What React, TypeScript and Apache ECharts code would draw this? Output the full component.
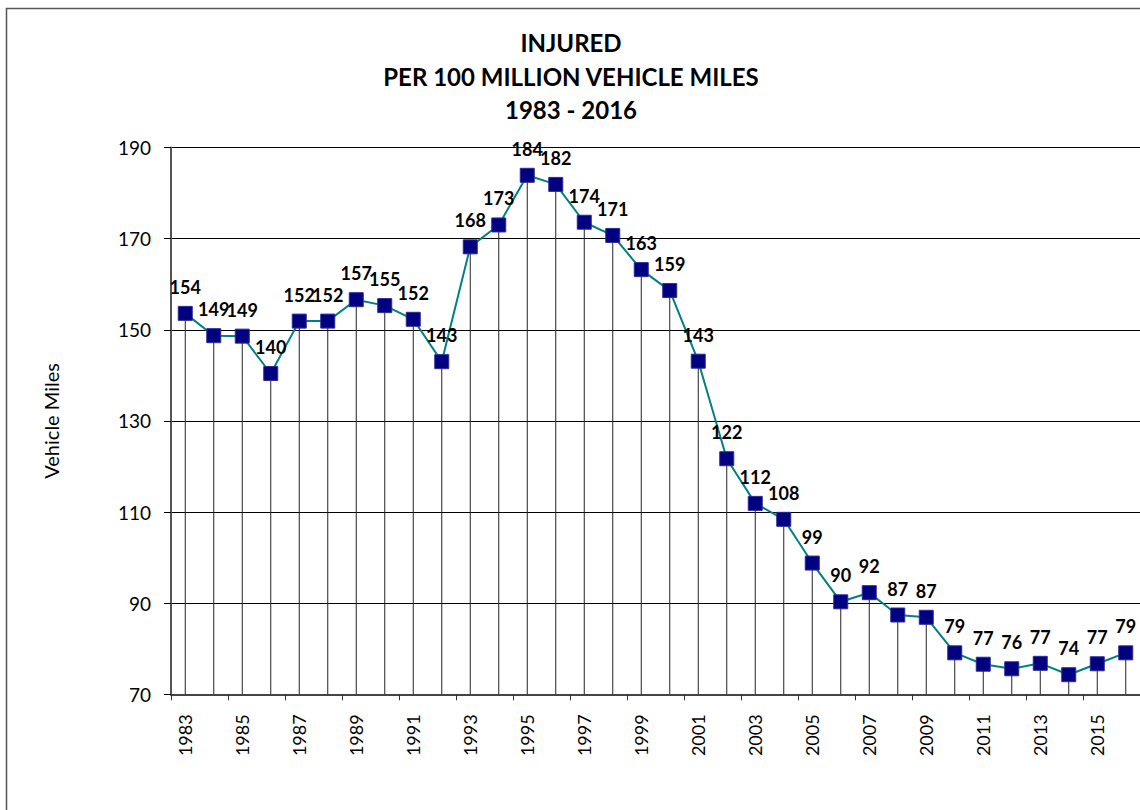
import React, { useEffect, useRef } from "react";
import * as echarts from "echarts";

const years: string[] = [
  "1983", "1984", "1985", "1986", "1987", "1988", "1989", "1990", "1991", "1992",
  "1993", "1994", "1995", "1996", "1997", "1998", "1999", "2000", "2001", "2002",
  "2003", "2004", "2005", "2006", "2007", "2008", "2009", "2010", "2011", "2012",
  "2013", "2014", "2015", "2016",
];

const injuredRate: number[] = [
  153.6, 148.7, 148.6, 140.4, 151.9, 151.9, 156.6, 155.3, 152.3, 143.0,
  168.2, 173.0, 183.9, 181.9, 173.6, 170.7, 163.2, 158.6, 143.1, 121.7,
  111.9, 108.4, 98.8, 90.3, 92.3, 87.4, 86.9, 79.1, 76.6, 75.6,
  76.8, 74.3, 76.7, 79.1,
];

const titleLines: string[] = ["INJURED", "PER 100 MILLION VEHICLE MILES", "1983 - 2016"];
const yAxisTitle = "Vehicle Miles";
const yMin = 70;
const yMax = 190;
const yStep = 20;

export default function App() {
  const ref = useRef<HTMLDivElement>(null);

  useEffect(() => {
    if (!ref.current) return;
    const chart = echarts.init(ref.current, null, { renderer: "svg" });
    const dropData = injuredRate.map((v, i) => [i, v]);
    const titleTexts = titleLines.map((t, i) => ({
      type: "text",
      x: 571,
      y: 42.5 + i * 33.5,
      silent: true,
      style: {
        text: t,
        align: "center",
        verticalAlign: "middle",
        fontFamily: "Lato",
        fontWeight: "bold",
        fontSize: 24,
        fill: "#000",
      },
    }));
    chart.setOption({
      animation: false,
      backgroundColor: "#ffffff",
      graphic: [
        {
          type: "rect",
          shape: { x: 6.5, y: 8.5, width: 1300, height: 1000 },
          style: { fill: "none", stroke: "#555", lineWidth: 1.5 },
          silent: true,
          z: -1,
        },
        ...titleTexts,
      ],
      grid: { left: 171, top: 147.5, bottom: 115.7, right: -7, containLabel: false },
      xAxis: {
        type: "category",
        data: years,
        boundaryGap: true,
        axisLine: { show: true, lineStyle: { color: "#444", width: 2 } },
        axisTick: { show: true, interval: 1, length: 6, lineStyle: { color: "#333" } },
        axisLabel: {
          interval: 1,
          rotate: 90,
          margin: 20,
          fontFamily: "Lato",
          fontSize: 18,
          color: "#000",
        },
        splitLine: { show: false },
      },
      yAxis: {
        type: "value",
        min: yMin,
        max: yMax,
        interval: yStep,
        name: yAxisTitle,
        nameLocation: "middle",
        nameRotate: 90,
        nameGap: 110,
        nameTextStyle: { fontFamily: "Lato", fontSize: 20, color: "#000" },
        axisLine: { show: true, lineStyle: { color: "#555", width: 2 } },
        axisTick: { show: true, length: 7, lineStyle: { color: "#000" } },
        axisLabel: { margin: 20, fontFamily: "Lato", fontSize: 19, color: "#000" },
        splitLine: { show: true, lineStyle: { color: "#000", width: 1 } },
      },
      series: [
        {
          type: "custom",
          name: "drop",
          z: 1,
          silent: true,
          data: dropData,
          renderItem: (params: any, api: any) => {
            const top = api.coord([api.value(0), api.value(1)]);
            const bottom = api.coord([api.value(0), yMin]);
            return {
              type: "line",
              shape: { x1: top[0], y1: top[1], x2: bottom[0], y2: bottom[1] },
              style: { stroke: "#222", lineWidth: 1 },
            };
          },
        },
        {
          type: "line",
          name: "Injured",
          z: 3,
          data: injuredRate,
          symbol: "rect",
          symbolSize: 14,
          lineStyle: { color: "#008080", width: 2 },
          itemStyle: { color: "#000080", borderColor: "#2b2b9a", borderWidth: 1 },
          label: {
            show: true,
            position: "top",
            distance: 10,
            fontFamily: "Lato",
            fontWeight: "bold",
            fontSize: 18,
            color: "#000",
            formatter: (p: any) => String(Math.round(p.value)),
          },
        },
      ],
    });
    return () => chart.dispose();
  }, []);

  return (
    <div
      ref={ref}
      style={{ position: "absolute", left: 0, top: 0, width: 1140, height: 810 }}
    />
  );
}
